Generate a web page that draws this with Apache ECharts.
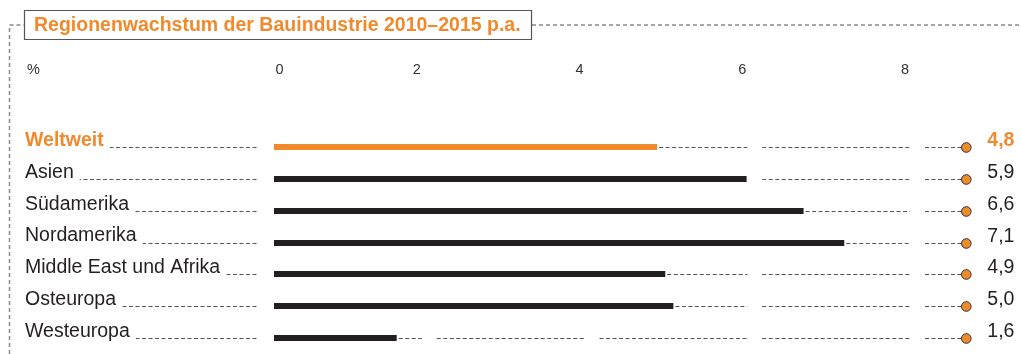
<!DOCTYPE html>
<html>
<head>
<meta charset="utf-8">
<script src="https://cdn.jsdelivr.net/npm/echarts@6/dist/echarts.min.js"></script>
<style>
  html, body { margin: 0; padding: 0; background: #fff; }
  #chart { width: 1021px; height: 354px; }
</style>
</head>
<body>
<div id="chart"></div>
<script>
// Growth of the construction industry by region, 2010–2015, % per year
const titleText = 'Regionenwachstum der Bauindustrie 2010–2015 p.a.';
const unitLabel = '%';
const regions = ['Weltweit', 'Asien', 'Südamerika', 'Nordamerika', 'Middle East und Afrika', 'Osteuropa', 'Westeuropa'];
const growth = [4.8, 5.9, 6.6, 7.1, 4.9, 5.0, 1.6];
const xTicks = [0, 2, 4, 6, 8];
const xMax = 8.6;   // end of the leader lines, where the dots sit

const ORANGE = '#f18a2c';
const INK = '#231f20';
const DASH = '#555555';
const FRAME = '#8a8a8a';
const FONT = '"Liberation Sans", Arial, Helvetica, sans-serif';
const BIG = 19.5;

const chart = echarts.init(document.getElementById('chart'), null, { renderer: 'canvas' });

function fmt(v) { return v.toFixed(1).replace('.', ','); }

function renderRow(params, api) {
  const v = api.value(0);
  const cat = api.value(1);
  const first = params.dataIndex === 0;
  const base = api.coord([0, cat]);
  const y = Math.round(base[1]) + 0.5;
  const x0 = base[0];
  const xEnd = api.coord([v, cat])[0];
  const xDot = api.coord([xMax, cat])[0];
  const gap = 7.5;
  const tickX = xTicks.map(t => api.coord([t, cat])[0]);
  const children = [];
  const dashStyle = { stroke: DASH, lineWidth: 1, lineDash: [4, 2.5] };
  const seg = (a, b) => {
    if (b - a > 1) children.push({ type: 'line', silent: true, shape: { x1: a, y1: y, x2: b, y2: y }, style: dashStyle });
  };
  // leader from the label column to the zero gap (labels sit on top with a white box)
  seg(25, tickX[0] - gap);
  // dashed continuation after the bar, broken at each tick
  let start = xEnd + 2;
  for (let k = 1; k < tickX.length; k++) {
    if (tickX[k] + gap <= start) continue;
    seg(start, tickX[k] - gap);
    start = Math.max(start, tickX[k] + gap);
  }
  seg(start, xDot - 4);
  // bar
  children.push({
    type: 'rect',
    shape: { x: x0 + gap, y: y - 3.5, width: xEnd - x0 - gap, height: 6 },
    style: { fill: first ? ORANGE : INK }
  });
  // end dot
  children.push({
    type: 'circle',
    shape: { cx: xDot, cy: y, r: 4.8 },
    style: { fill: ORANGE, stroke: '#333', lineWidth: 1 }
  });
  // value label
  children.push({
    type: 'text',
    x: xDot + 21,
    y: y - 7,
    style: {
      text: fmt(v),
      fill: first ? ORANGE : INK,
      fontSize: BIG,
      fontFamily: FONT,
      fontWeight: first ? 'bold' : 'normal',
      align: 'left',
      verticalAlign: 'middle'
    }
  });
  return { type: 'group', children };
}

const option = {
  animation: false,
  backgroundColor: '#fff',
  grid: { left: 266.5, top: 131, width: xMax * 81.375, height: 224.5, containLabel: false },
  xAxis: {
    type: 'value',
    position: 'top',
    min: 0,
    max: xMax,
    interval: 2,
    axisLine: { show: false },
    axisTick: { show: false },
    splitLine: { show: false },
    axisLabel: {
      margin: 53,
      formatter: v => xTicks.includes(v) ? (v === 0 ? '{z|0}' : '{t|' + v + '}') : '',
      rich: {
        z: { padding: [0, 0, 0, 26], fontSize: 14.5, lineHeight: 16, color: '#333', fontFamily: FONT },
        t: { padding: [0, 25, 0, 0], fontSize: 14.5, lineHeight: 16, color: '#333', fontFamily: FONT }
      }
    }
  },
  yAxis: {
    type: 'category',
    data: regions,
    inverse: true,
    z: 10,
    axisLine: { show: false },
    axisTick: { show: false },
    splitLine: { show: false },
    axisLabel: {
      interval: 0,
      hideOverlap: false,
      showMinLabel: true,
      showMaxLabel: true,
      margin: 241.5,
      align: 'left',
      backgroundColor: '#fff',
      padding: [0, 6, 13, 0],
      formatter: (v, i) => (i === 0 ? '{h|' : '{n|') + v + '}',
      rich: {
        h: { fontSize: BIG, lineHeight: 19, fontWeight: 'bold', color: ORANGE, fontFamily: FONT },
        n: { fontSize: BIG, lineHeight: 19, color: INK, fontFamily: FONT }
      }
    }
  },
  graphic: [
    {
      type: 'polyline',
      silent: true,
      shape: { points: [[9.5, 354], [9.5, 25], [24, 25]] },
      style: { stroke: FRAME, lineWidth: 1.5, lineDash: [4, 3], fill: null }
    },
    {
      type: 'line',
      silent: true,
      shape: { x1: 532, y1: 25, x2: 1021, y2: 25 },
      style: { stroke: FRAME, lineWidth: 1.5, lineDash: [4, 3] }
    },
    {
      type: 'rect',
      silent: true,
      shape: { x: 24.5, y: 10.5, width: 507, height: 29 },
      style: { fill: '#fff', stroke: '#555', lineWidth: 1.2 }
    },
    {
      type: 'text',
      silent: true,
      x: 34,
      y: 25.5,
      style: {
        text: titleText,
        fill: ORANGE,
        fontSize: BIG,
        fontWeight: 'bold',
        fontFamily: FONT,
        align: 'left',
        verticalAlign: 'middle'
      }
    },
    {
      type: 'text',
      silent: true,
      x: 27,
      y: 70,
      style: {
        text: unitLabel,
        fill: '#333',
        fontSize: 14.5,
        fontFamily: FONT,
        align: 'left',
        verticalAlign: 'middle'
      }
    }
  ],
  series: [
    {
      type: 'custom',
      renderItem: renderRow,
      encode: { x: 0, y: 1 },
      data: regions.map((r, i) => [growth[i], i])
    }
  ]
};

chart.setOption(option);
</script>
</body>
</html>
